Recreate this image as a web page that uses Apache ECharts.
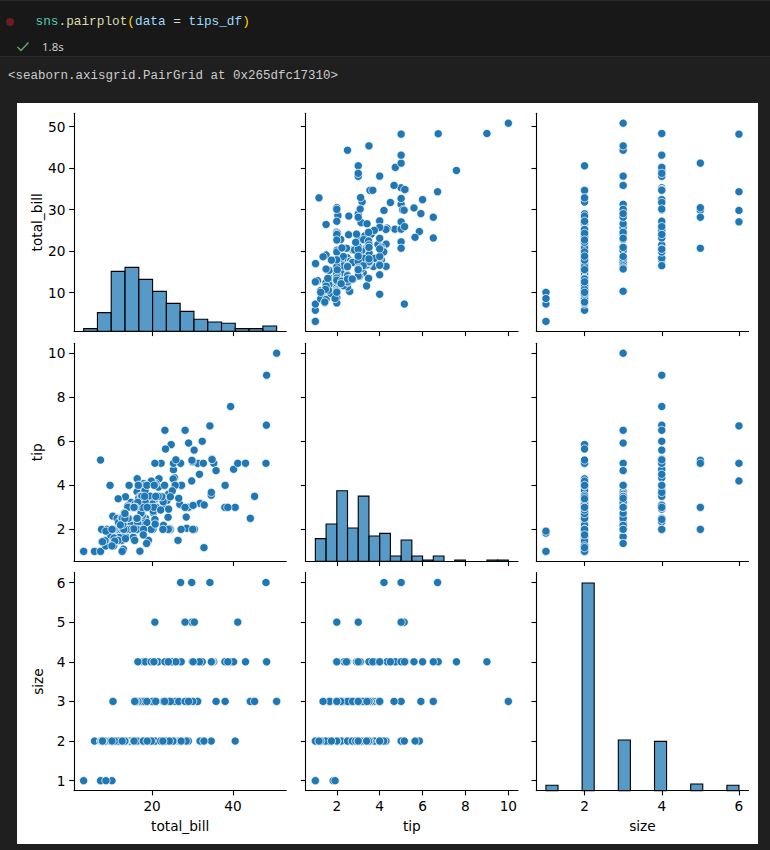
<!DOCTYPE html>
<html>
<head>
<meta charset="utf-8">
<script src="https://cdn.jsdelivr.net/npm/echarts@6.0.0/dist/echarts.min.js"></script>
<style>
  html, body { margin:0; padding:0; background:#1f1f1f; width:770px; height:850px; overflow:hidden; }
  #cell { position:absolute; left:0; top:0; width:770px; height:55px; background:#181818; border-top:1px solid #2b2b2b; border-bottom:1px solid #2b2b2b; }
  .mono { font-family:"Liberation Mono","DejaVu Sans Mono",monospace; white-space:pre; position:absolute; }
  #code { left:35.5px; top:13px; font-size:12.75px; line-height:18px; color:#d4d4d4; }
  #dot { position:absolute; left:6px; top:18px; width:8px; height:8px; border-radius:50%; background:#6b1d1d; }
  #check { position:absolute; left:16px; top:41px; }
  #time { position:absolute; left:42px; top:39px; font-family:"Noto Sans","Open Sans",sans-serif; font-size:11.5px; line-height:16px; color:#cccccc; }
  #out { left:8px; top:67px; font-size:12.5px; line-height:18px; color:#cccccc; }
  #chart { position:absolute; left:17px; top:103px; width:741px; height:741px; background:#ffffff; }
</style>
</head>
<body>
<div id="cell"></div>
<div id="dot"></div>
<div id="code" class="mono"><span style="color:#4ec9b0">sns</span>.<span style="color:#dcdcaa">pairplot</span><span style="color:#ffd700">(</span><span style="color:#9cdcfe">data</span> = <span style="color:#9cdcfe">tips_df</span><span style="color:#ffd700">)</span></div>
<svg id="check" width="14" height="12" viewBox="0 0 14 12"><polyline points="1.5,6 5,9.5 12.5,1.5" fill="none" stroke="#5fae6a" stroke-width="1.4"/></svg>
<div id="time">1.8s</div>
<div id="out" class="mono">&lt;seaborn.axisgrid.PairGrid at 0x265dfc17310&gt;</div>
<div id="chart"></div>
<script>
// ---- data (tips dataset as plotted) ----
const totalBill = [16.99,10.34,21.01,23.68,24.59,25.29,8.77,26.88,15.04,14.78,
10.27,35.26,15.42,18.43,14.83,21.58,10.33,16.29,16.97,20.65,
17.92,20.29,15.77,39.42,19.82,17.81,13.37,12.69,21.70,19.65,
9.55,18.35,15.06,20.69,17.78,24.06,16.31,16.93,18.69,31.27,
16.04,17.46,13.94,9.68,30.40,18.29,22.23,32.40,28.55,18.04,
12.54,10.29,34.81,9.94,25.56,19.49,38.01,26.41,11.24,48.27,
20.29,13.81,11.02,18.29,17.59,20.08,16.45,3.07,20.23,15.01,
12.02,17.07,26.86,25.28,14.73,10.51,17.92,27.20,22.76,17.29,
19.44,16.66,10.07,32.68,15.98,34.83,13.03,18.28,24.71,21.16,
28.97,22.49,5.75,16.32,22.75,40.17,27.28,12.03,21.01,12.46,
11.35,15.38,44.30,22.42,20.92,15.36,20.49,25.21,18.24,14.31,
14.00,7.25,38.07,23.95,25.71,17.31,29.93,10.65,12.43,24.08,
11.69,13.42,14.26,15.95,12.48,29.80,8.52,14.52,11.38,22.82,
19.08,20.27,11.17,12.26,18.26,8.51,10.33,14.15,16.00,13.16,
17.47,34.30,41.19,27.05,16.43,8.35,18.64,11.87,9.78,7.51,
14.07,13.13,17.26,24.55,19.77,29.85,48.17,25.00,13.39,16.49,
21.50,12.66,16.21,13.81,17.51,24.52,20.76,31.71,10.59,10.63,
50.81,15.81,7.25,31.85,16.82,32.90,17.89,14.48,9.60,34.63,
34.65,23.33,45.35,23.17,40.55,20.69,20.90,30.46,18.15,23.10,
15.69,19.81,28.44,15.48,16.58,7.56,10.34,43.11,13.00,13.51,
18.71,12.74,13.00,16.40,20.53,16.47,26.59,38.73,24.27,12.76,
30.06,25.89,48.33,13.27,28.17,12.90,28.15,11.59,7.74,30.14,
12.16,13.42,8.58,15.98,13.42,16.27,10.09,20.45,13.28,22.12,
24.01,15.69,11.61,10.77,15.53,10.07,12.60,32.83,35.83,29.03,
27.18,22.67,17.82,18.78];

const tip = [1.01,1.66,3.50,3.31,3.61,4.71,2.00,3.12,1.96,3.23,
1.71,5.00,1.57,3.00,3.02,3.92,1.67,3.71,3.50,3.35,
4.08,2.75,2.23,7.58,3.18,2.34,2.00,2.00,4.30,3.00,
1.45,2.50,3.00,2.45,3.27,3.60,2.00,3.07,2.31,5.00,
2.24,2.54,3.06,1.32,5.60,3.00,5.00,6.00,2.05,3.00,
2.50,2.60,5.20,1.56,4.34,3.51,3.00,1.50,1.76,6.73,
3.21,2.00,1.98,3.76,2.64,3.15,2.47,1.00,2.01,2.09,
1.97,3.00,3.14,5.00,2.20,1.25,3.08,4.00,3.00,2.71,
3.00,3.40,1.83,5.00,2.03,5.17,2.00,4.00,5.85,3.00,
3.00,3.50,1.00,4.30,3.25,4.73,4.00,1.50,3.00,1.50,
2.50,3.00,2.50,3.48,4.08,1.64,4.06,4.29,3.76,4.00,
3.00,1.00,4.00,2.55,4.00,3.50,5.07,1.50,1.80,2.92,
2.31,1.68,2.50,2.00,2.52,4.20,1.48,2.00,2.00,2.18,
1.50,2.83,1.50,2.00,3.25,1.25,2.00,2.00,2.00,2.75,
3.50,6.70,5.00,5.00,2.30,1.50,1.36,1.63,1.73,2.00,
2.50,2.00,2.74,2.00,2.00,5.14,5.00,3.75,2.61,2.00,
3.50,2.50,2.00,2.00,3.00,3.48,2.24,4.50,1.61,2.00,
10.00,3.16,5.15,3.18,4.00,3.11,2.00,2.00,4.00,3.55,
3.68,5.65,3.50,6.50,3.00,5.00,3.50,2.00,3.50,4.00,
1.50,4.19,2.56,2.02,4.00,1.44,2.00,5.00,2.00,2.00,
4.00,2.01,2.00,2.50,4.00,3.23,3.41,3.00,2.03,2.23,
2.00,5.16,9.00,2.50,6.50,1.10,3.00,1.50,1.44,3.09,
2.20,3.48,1.92,3.00,1.58,2.50,2.00,3.00,2.72,2.88,
2.00,3.00,3.39,1.47,3.00,1.25,1.00,1.17,4.67,5.92,
2.00,2.00,1.75,3.00];

const size = [2,3,3,2,4,4,2,4,2,2,
2,4,2,4,2,2,3,3,3,3,
2,2,2,4,2,4,2,2,2,2,
2,4,2,4,2,3,3,3,3,3,
3,2,2,2,4,2,2,4,3,2,
2,2,4,2,4,2,4,2,2,4,
2,2,2,4,3,3,2,1,2,2,
2,3,2,2,2,2,2,4,2,2,
2,2,1,2,2,4,2,2,2,2,
2,2,2,2,2,4,2,2,2,2,
2,2,3,2,2,2,2,2,2,2,
2,1,3,2,3,2,4,2,2,4,
2,2,2,2,2,6,2,2,2,3,
2,2,2,2,2,2,2,2,2,2,
2,6,5,6,2,2,3,2,2,2,
2,2,3,4,4,5,6,4,2,4,
4,2,3,2,2,3,2,4,2,2,
3,2,2,2,2,2,2,2,2,2,
4,2,3,4,2,5,3,5,3,3,
2,2,2,2,2,2,2,4,2,2,
3,2,2,2,4,3,3,4,2,2,
3,4,4,2,3,2,5,2,2,4,
2,2,1,3,2,2,2,4,2,2,
4,3,2,2,2,2,2,2,3,3,
2,2,2,2];

const varNames = ['total_bill', 'tip', 'size'];
const xTickValues = { total_bill: [20, 40], tip: [2, 4, 6, 8, 10], size: [2, 4, 6] };
const yTickValues = { total_bill: [10, 20, 30, 40, 50], tip: [2, 4, 6, 8, 10], size: [1, 2, 3, 4, 5, 6] };
const binCounts = { total_bill: 14, tip: 18, size: 16 };

// ---- layout / styles ----
const columns = { total_bill: totalBill, tip: tip, size: size };
const axisRange = { total_bill: [0.683, 53.197], tip: [0.55, 10.45], size: [0.75, 6.25] };
const histYMax = 163.8;
const gridLefts = [57, 288.7, 519.3];
const gridTops = [10.3, 240.3, 469.6];
const gridW = 212.3, gridH = 218;
const FONT = 'DejaVu Sans';
const FS = 13.7;
const BLUE = '#1f77b4';

function histogram(values, nb) {
  const mn = Math.min.apply(null, values), mx = Math.max.apply(null, values);
  const w = (mx - mn) / nb;
  const counts = new Array(nb).fill(0);
  values.forEach(v => {
    let i = Math.floor((v - mn) / w);
    if (i >= nb) i = nb - 1;
    if (i < 0) i = 0;
    counts[i]++;
  });
  const out = [];
  for (let i = 0; i < nb; i++) {
    if (counts[i] > 0) out.push([mn + i * w, mn + (i + 1) * w, counts[i]]);
  }
  return out;
}

const axisLineStyle = { color: '#000', width: 1.1 };
const grids = [], xAxes = [], yAxes = [], series = [];
const diagYAxisIndex = {};

for (let r = 0; r < 3; r++) {
  for (let c = 0; c < 3; c++) {
    const g = r * 3 + c;
    const xv = varNames[c], yv = varNames[r];
    grids.push({ left: gridLefts[c], top: gridTops[r], width: gridW, height: gridH, containLabel: false });
    xAxes.push({
      type: 'value', gridIndex: g, min: axisRange[xv][0], max: axisRange[xv][1],
      axisLine: { show: true, onZero: false, lineStyle: axisLineStyle },
      axisTick: { show: true, length: 4.8, lineStyle: axisLineStyle, customValues: xTickValues[xv] },
      axisLabel: { show: r === 2, customValues: xTickValues[xv], margin: 8.5, fontFamily: FONT, fontSize: FS, color: '#000' },
      splitLine: { show: false },
      name: r === 2 ? xv : '', nameLocation: 'middle', nameGap: 28,
      nameTextStyle: { fontFamily: FONT, fontSize: FS, color: '#000' }
    });
    yAxes.push({
      type: 'value', gridIndex: g, min: axisRange[yv][0], max: axisRange[yv][1], position: 'left',
      axisLine: { show: true, onZero: false, lineStyle: axisLineStyle },
      axisTick: { show: true, length: 4.8, lineStyle: axisLineStyle, customValues: yTickValues[yv] },
      axisLabel: { show: c === 0, customValues: yTickValues[yv], margin: 8.5, fontFamily: FONT, fontSize: FS, color: '#000' },
      splitLine: { show: false },
      name: c === 0 ? yv : '', nameLocation: 'middle', nameGap: 29, nameRotate: 90,
      nameTextStyle: { fontFamily: FONT, fontSize: FS, color: '#000' }
    });
  }
}

// hidden count axes for diagonal histograms (shared scale)
for (let d = 0; d < 3; d++) {
  const g = d * 3 + d;
  diagYAxisIndex[d] = yAxes.length;
  yAxes.push({ type: 'value', gridIndex: g, min: 0, max: histYMax, show: false, position: 'right' });
}

for (let r = 0; r < 3; r++) {
  for (let c = 0; c < 3; c++) {
    const g = r * 3 + c;
    const xv = varNames[c], yv = varNames[r];
    if (r === c) {
      series.push({
        type: 'custom', xAxisIndex: g, yAxisIndex: diagYAxisIndex[r],
        data: histogram(columns[xv], binCounts[xv]),
        encode: { x: [0, 1], y: 2 },
        silent: true,
        renderItem: function (params, api) {
          const p0 = api.coord([api.value(0), 0]);
          const p1 = api.coord([api.value(1), api.value(2)]);
          return {
            type: 'rect',
            shape: { x: p0[0], y: p1[1], width: p1[0] - p0[0], height: p0[1] - p1[1] },
            style: { fill: 'rgba(31,119,180,0.75)', stroke: '#000', lineWidth: 1.1 }
          };
        }
      });
    } else {
      const xs = columns[xv], ys = columns[yv];
      series.push({
        type: 'scatter', xAxisIndex: g, yAxisIndex: g,
        data: xs.map((v, i) => [v, ys[i]]),
        symbol: 'circle', symbolSize: 8.2, silent: true,
        itemStyle: { color: BLUE, borderColor: '#ffffff', borderWidth: 0.75, opacity: 1 },
        emphasis: { disabled: true }
      });
    }
  }
}

const chart = echarts.init(document.getElementById('chart'), null, { renderer: 'svg', width: 741, height: 741 });
chart.setOption({
  animation: false,
  backgroundColor: '#ffffff',
  grid: grids, xAxis: xAxes, yAxis: yAxes, series: series
});
</script>
</body>
</html>
